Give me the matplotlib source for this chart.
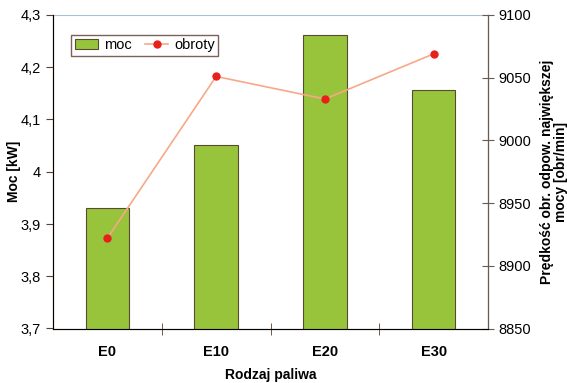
import numpy as np
import matplotlib.pyplot as plt

plt.rcParams['font.family'] = ['Liberation Sans', 'DejaVu Sans']

paliwa = ['E0', 'E10', 'E20', 'E30']
moc = [3.93, 4.051, 4.261, 4.156]
obroty = [8922, 9051, 9033, 9069]

fig = plt.figure(figsize=(5.67, 3.83), dpi=100)
ax = fig.add_axes([53/567, 1-328.5/383, 435/567, 313.5/383])
x = np.arange(len(paliwa))

ax.bar(x, moc, width=0.4, color='#98c43c', edgecolor='#5a4a30', linewidth=0.8,
       label='moc', zorder=2)
ax.set_ylim(3.7, 4.3)
ax.set_xlim(-0.5, 3.5)
ax.set_yticks(np.arange(3.7, 4.31, 0.1))
ax.set_yticklabels(['3,7', '3,8', '3,9', '4', '4,1', '4,2', '4,3'], fontsize=10.5)
ax.set_xticks(x)
ax.set_xticklabels(paliwa, fontsize=10.5, fontweight='bold')
ax.set_xticks([0.5, 1.5, 2.5], minor=True)
ax.tick_params(axis='x', which='major', length=0, pad=12)
ax.tick_params(axis='x', which='minor', length=8, direction='inout', color='#5a4030')
ax.tick_params(axis='y', length=5, direction='out', color='#5a4030')
ax.set_ylabel('Moc [kW]', fontsize=10, fontweight='bold', labelpad=0)
ax.set_xlabel('Rodzaj paliwa', fontsize=10, fontweight='bold', labelpad=6)
ax.spines['left'].set_color('#7a5040')
ax.spines['bottom'].set_color('#7a5040')
ax.spines['top'].set_color('#a8c0d8')
ax.spines['top'].set_linewidth(0.8)

ax2 = ax.twinx()
ax2.plot(x, obroty, color='#f8a888', linewidth=1.2, marker='o', markersize=5,
         markerfacecolor='#e8201a', markeredgecolor='#e8201a', label='obroty', zorder=3)
ax2.set_ylim(8850, 9100)
ax2.set_yticks(np.arange(8850, 9101, 50))
ax2.tick_params(axis='y', length=8, direction='inout', color='#6a5a50', labelsize=10.5)
ax2.spines['right'].set_color('#6a5a50')
ax2.spines['top'].set_visible(False)
ax2.set_ylabel('Prędkość obr. odpow. największej\nmocy [obr/min]', fontsize=10,
               fontweight='bold', labelpad=6, linespacing=1.0)

h1, l1 = ax.get_legend_handles_labels()
h2, l2 = ax2.get_legend_handles_labels()
leg = ax2.legend(h1 + h2, l1 + l2, loc='upper left', bbox_to_anchor=(0.025, 0.96),
                 ncol=2, fontsize=10.5, frameon=True, fancybox=False,
                 handlelength=1.6, handletextpad=0.4, columnspacing=0.9,
                 borderpad=0.25)
leg.get_frame().set_edgecolor('#5a3a30')
leg.get_frame().set_linewidth(1.0)

fig.savefig('out.png', dpi=100)
